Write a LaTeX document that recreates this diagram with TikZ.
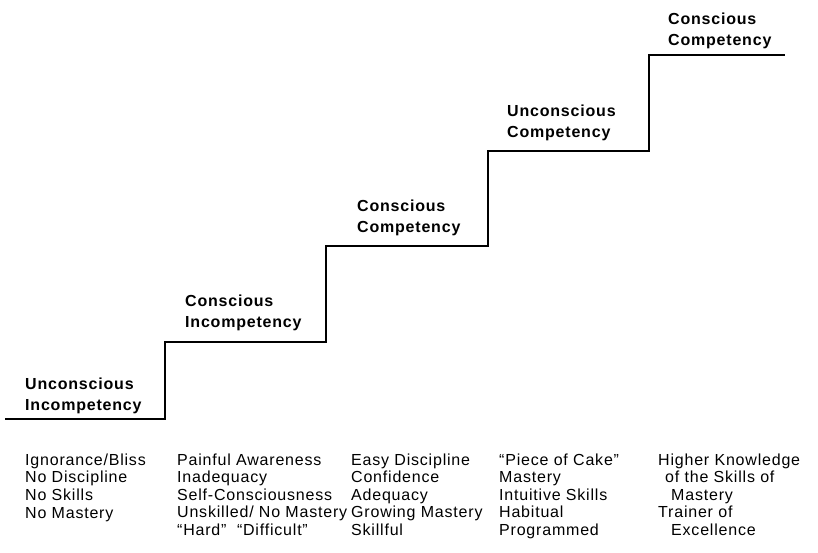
\documentclass[tikz,border=0pt]{standalone}
\usepackage{fontspec}
\setmainfont{Liberation Sans}
\newfontfamily\stagefont[LetterSpace=5]{Liberation Sans}
\begin{document}
\begin{tikzpicture}[x=1pt,y=-1pt,
  stagelabel/.style={anchor=base west,align=left,inner sep=0pt,
    font=\stagefont\bfseries\fontsize{16}{21}\selectfont},
  traitlist/.style={anchor=base west,align=left,inner sep=0pt,
    font=\stagefont\fontsize{16}{17.6}\selectfont},
  stairline/.style={line width=2.8pt,line join=miter,line cap=butt}]
\useasboundingbox (0,0) rectangle (818,552);

% corners of the staircase
\coordinate (s0) at (5,419);
\coordinate (s1) at (165,419);
\coordinate (s2) at (165,342);
\coordinate (s3) at (326,342);
\coordinate (s4) at (326,246);
\coordinate (s5) at (488,246);
\coordinate (s6) at (488,151);
\coordinate (s7) at (649,151);
\coordinate (s8) at (649,55);
\coordinate (s9) at (785,55);
\draw[stairline] (s0) -- (s1) -- (s2) -- (s3) -- (s4) -- (s5) -- (s6) -- (s7) -- (s8) -- (s9);

% stage names on the treads (anchored at the baseline of the last line)
\node[stagelabel] (ui) at (25,410) {Unconscious\\Incompetency};
\node[stagelabel] (ci) at (185,327) {Conscious\\Incompetency};
\node[stagelabel] (cc) at (357,232) {Conscious\\Competency};
\node[stagelabel] (uc) at (507,137) {Unconscious\\Competency};
\node[stagelabel] (cc2) at (668,45) {Conscious\\Competency};

% traits of each stage (anchored at the baseline of the last line)
\node[traitlist] (t1) at (25,518) {Ignorance/Bliss\\No Discipline\\No Skills\\No Mastery};
\node[traitlist] (t2) at (177,535.5) {Painful Awareness\\Inadequacy\\Self-Consciousness\\Unskilled/ No Mastery\\“Hard”\ \ “Difficult”};
\node[traitlist] (t3) at (351,535.5) {Easy Discipline\\Confidence\\Adequacy\\Growing Mastery\\Skillful};
\node[traitlist] (t4) at (499,535.5) {“Piece of Cake”\\Mastery\\Intuitive Skills\\Habitual\\Programmed};
\node[traitlist] (t5) at (658,535.5) {Higher Knowledge\\\hspace*{7pt}of the Skills of\\\hspace*{13pt}Mastery\\Trainer of\\\hspace*{13pt}Excellence};
\end{tikzpicture}
\end{document}
